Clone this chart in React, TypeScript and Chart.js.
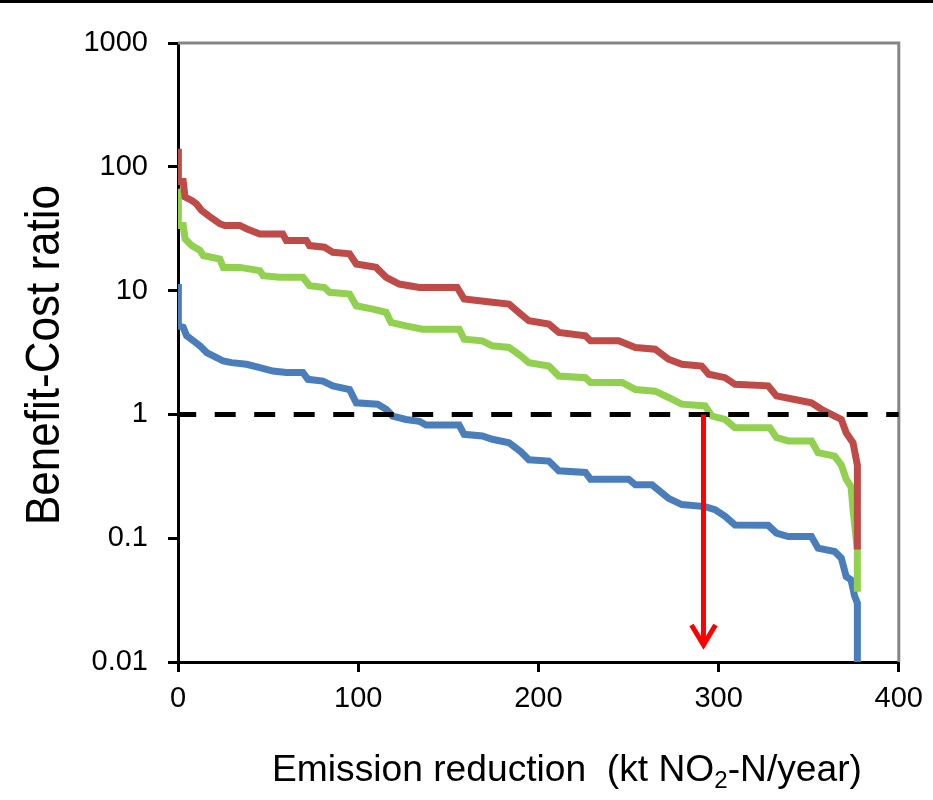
import React, { useEffect, useRef } from 'react';
import { Chart, registerables } from 'chart.js';

Chart.register(...registerables);

// ---- axis ticks ----
const X_TICKS = [0, 100, 200, 300, 400];
const Y_TICKS = [0.01, 0.1, 1, 10, 100, 1000];

// ---- series (cumulative emission reduction, benefit-cost ratio) ----
const RED_X = [0, 0.2, 2.9, 3.9, 7.6, 10.3, 13.1, 17.7, 23.2, 26.0, 34.3, 38.0, 45.4, 58.1, 60.1, 71.2, 73.0, 81.3, 85.9, 95.2, 98.9, 109.9, 115.5, 122.8, 133.9, 154.9, 158.8, 174.4, 183.7, 190.2, 194.7, 205.8, 211.3, 226.1, 228.9, 244.5, 253.8, 264.8, 272.2, 279.6, 290.6, 294.5, 303.6, 309.1, 327.5, 332.1, 342.3, 351.5, 357.0, 362.5, 368.1, 370.8, 374.6, 377, 377];
const RED_Y = [140, 76, 76, 57, 53.5, 50, 44.4, 39.5, 34.7, 33.6, 33.6, 31.6, 28.7, 28.7, 25.4, 25.4, 23.1, 22.4, 20.4, 19.8, 16.4, 15.4, 12.8, 11.3, 10.6, 10.6, 8.55, 8.04, 7.79, 6.46, 5.7, 5.36, 4.59, 4.31, 3.93, 3.93, 3.47, 3.36, 2.79, 2.54, 2.46, 2.11, 1.98, 1.75, 1.7, 1.41, 1.32, 1.24, 1.1, 1.0, 0.91, 0.71, 0.59, 0.39, 0.081];

const GREEN_X = [0, 0.2, 2.9, 3.9, 7.6, 12.2, 14.0, 23.2, 25.1, 34.3, 45.4, 47.2, 56.4, 69.3, 73.0, 81.3, 84.1, 95.2, 98.9, 108.1, 115.5, 118.2, 126.5, 135.7, 156.0, 158.8, 168.9, 174.4, 183.7, 190.2, 194.7, 205.8, 211.3, 226.1, 228.9, 246.4, 253.8, 264.8, 272.2, 279.6, 292.5, 296.3, 303.6, 309.1, 328.4, 332.1, 338.6, 351.5, 355.2, 364.4, 368.1, 370.8, 373.5, 374.6, 377, 377];
const GREEN_Y = [66.6, 33.6, 33.6, 26.2, 23.1, 21.1, 19.2, 18.0, 15.4, 15.4, 14.5, 13.2, 12.8, 12.8, 10.96, 10.6, 9.69, 9.38, 7.54, 7.09, 6.67, 5.53, 5.19, 4.88, 4.88, 4.05, 3.93, 3.58, 3.47, 2.97, 2.62, 2.46, 2.04, 1.98, 1.81, 1.81, 1.59, 1.54, 1.37, 1.21, 1.17, 0.97, 0.91, 0.78, 0.78, 0.65, 0.61, 0.61, 0.49, 0.46, 0.39, 0.30, 0.26, 0.17, 0.081, 0.037];

const BLUE_X = [0, 0.2, 2.9, 4.8, 8.5, 12.2, 15.9, 21.4, 25.1, 29.7, 38.0, 45.4, 52.7, 60.1, 69.3, 72.1, 80.4, 85.9, 95.2, 98.9, 110.8, 115.5, 119.1, 126.5, 133.9, 137.6, 156.0, 158.8, 168.9, 174.4, 183.7, 190.2, 194.7, 205.8, 211.3, 226.1, 228.9, 250.1, 253.8, 263.0, 272.2, 279.6, 292.5, 298.0, 303.6, 309.1, 327.5, 332.1, 338.6, 351.5, 355.2, 364.4, 368.1, 370.8, 373.5, 375.5, 377, 377];
const BLUE_Y = [11.3, 5.19, 5.04, 4.31, 3.93, 3.58, 3.16, 2.88, 2.70, 2.62, 2.54, 2.39, 2.24, 2.18, 2.18, 1.92, 1.86, 1.70, 1.59, 1.24, 1.21, 1.10, 0.97, 0.91, 0.88, 0.82, 0.82, 0.69, 0.67, 0.63, 0.59, 0.50, 0.43, 0.42, 0.35, 0.34, 0.30, 0.30, 0.27, 0.27, 0.21, 0.187, 0.18, 0.17, 0.15, 0.128, 0.127, 0.11, 0.103, 0.103, 0.083, 0.078, 0.069, 0.049, 0.046, 0.034, 0.030, 0.01];

// ---- break-even line and arrow ----
const THRESHOLD_X = [0, 400];
const THRESHOLD_Y = [1, 1];
const ARROW_X = [291.6];
const ARROW_Y = [1, 0.0125]; // from, tip

// ---- text ----
const Y_TITLE = 'Benefit-Cost ratio';
const X_TITLE_PARTS = ['Emission reduction  (kt NO', '2', '-N/year)'];

const FONT = '"Liberation Sans", Arial, Helvetica, sans-serif';

const toPts = (xs: number[], ys: number[]) => xs.map((x, i) => ({ x, y: ys[i] }));

const decorPlugin = {
  id: 'decor',
  beforeDraw(chart: any) {
    const ctx = chart.ctx;
    ctx.save();
    ctx.fillStyle = '#ffffff';
    ctx.fillRect(0, 0, chart.width, chart.height);
    ctx.restore();
  },
  beforeDatasetsDraw(chart: any) {
    const { ctx, chartArea } = chart;
    ctx.save();
    ctx.strokeStyle = '#868686';
    ctx.lineWidth = 3;
    ctx.beginPath();
    ctx.moveTo(chartArea.left, chartArea.top);
    ctx.lineTo(chartArea.right, chartArea.top);
    ctx.lineTo(chartArea.right, chartArea.bottom);
    ctx.stroke();
    ctx.restore();
  },
  afterDatasetsDraw(chart: any) {
    const ctx = chart.ctx;
    const xs = chart.scales.x;
    const ys = chart.scales.y;
    const px = xs.getPixelForValue(ARROW_X[0]);
    const y0 = ys.getPixelForValue(ARROW_Y[0]);
    const y1 = ys.getPixelForValue(ARROW_Y[1]);
    ctx.save();
    ctx.strokeStyle = '#FF0000';
    ctx.lineWidth = 5;
    ctx.lineCap = 'butt';
    ctx.beginPath();
    ctx.moveTo(px, y0);
    ctx.lineTo(px, y1 - 6);
    ctx.stroke();
    ctx.lineJoin = 'miter';
    ctx.beginPath();
    ctx.moveTo(px - 12, y1 - 25);
    ctx.lineTo(px, y1 - 5);
    ctx.lineTo(px + 12, y1 - 25);
    ctx.stroke();
    ctx.restore();
  },
  afterDraw(chart: any) {
    const ctx = chart.ctx;
    ctx.save();
    // top rule
    ctx.fillStyle = '#000000';
    ctx.fillRect(0, 0, chart.width, 3);

    // y title (rotated)
    ctx.font = `48px ${FONT}`;
    const yw = ctx.measureText(Y_TITLE).width;
    ctx.save();
    ctx.translate(59, 355);
    ctx.rotate(-Math.PI / 2);
    ctx.scale(340 / yw, 1);
    ctx.textAlign = 'center';
    ctx.textBaseline = 'alphabetic';
    ctx.fillText(Y_TITLE, 0, 0);
    ctx.restore();

    // x title with subscript
    const fonts = [`37px ${FONT}`, `24px ${FONT}`, `37px ${FONT}`];
    const dys = [0, 7, 0];
    let total = 0;
    const widths = X_TITLE_PARTS.map((t, i) => {
      ctx.font = fonts[i];
      const w = ctx.measureText(t).width;
      total += w;
      return w;
    });
    ctx.save();
    ctx.translate(272, 781);
    ctx.scale(590 / total, 1);
    ctx.textAlign = 'left';
    ctx.textBaseline = 'alphabetic';
    let x = 0;
    X_TITLE_PARTS.forEach((t, i) => {
      ctx.font = fonts[i];
      ctx.fillText(t, x, dys[i]);
      x += widths[i];
    });
    ctx.restore();
    ctx.restore();
  },
};

export default function App() {
  const ref = useRef<HTMLCanvasElement>(null);
  useEffect(() => {
    document.body.style.margin = '0';
    const canvas = ref.current;
    if (!canvas) return;
    const lineBase = { pointRadius: 0, pointHoverRadius: 0, tension: 0, fill: false, borderCapStyle: 'butt' as const, borderJoinStyle: 'miter' as const };
    const chart = new Chart(canvas, {
      type: 'line',
      data: {
        datasets: [
          { ...lineBase, label: 'break-even', data: toPts(THRESHOLD_X, THRESHOLD_Y), borderColor: '#000000', borderWidth: 5, borderDash: [21, 18.5], borderDashOffset: 2.8, order: 0 },
          { ...lineBase, label: 'high', data: toPts(RED_X, RED_Y), borderColor: '#BE4B48', borderWidth: 7, order: 1 },
          { ...lineBase, label: 'medium', data: toPts(GREEN_X, GREEN_Y), borderColor: '#92D050', borderWidth: 7, order: 2 },
          { ...lineBase, label: 'low', data: toPts(BLUE_X, BLUE_Y), borderColor: '#4A7EBB', borderWidth: 7, order: 3 },
        ],
      },
      options: {
        animation: false,
        responsive: false,
        devicePixelRatio: 1,
        events: [],
        layout: { padding: { top: 43, right: 32, left: 0, bottom: 0 } },
        plugins: { legend: { display: false }, tooltip: { enabled: false }, title: { display: false } },
        scales: {
          x: {
            type: 'linear',
            min: 0,
            max: 400,
            afterBuildTicks: (s: any) => { s.ticks = X_TICKS.map((v) => ({ value: v })); },
            afterFit: (s: any) => { s.height = 138; },
            ticks: { color: '#000000', font: { family: FONT, size: 29 }, padding: 10, maxRotation: 0 },
            grid: { display: true, drawOnChartArea: false, drawTicks: true, tickLength: 10, color: '#000000', lineWidth: 3 },
            border: { display: true, color: '#000000', width: 3 },
            title: { display: false },
          },
          y: {
            type: 'logarithmic',
            min: 0.01,
            max: 1000,
            afterBuildTicks: (s: any) => { s.ticks = Y_TICKS.map((v) => ({ value: v, major: true })); },
            afterFit: (s: any) => { s.width = 178; },
            ticks: { color: '#000000', font: { family: FONT, size: 29 }, padding: 20, callback: (v: any) => String(v) },
            grid: { display: true, drawOnChartArea: false, drawTicks: true, tickLength: 10, color: '#000000', lineWidth: 3 },
            border: { display: true, color: '#000000', width: 3 },
            title: { display: false },
          },
        },
      },
      plugins: [decorPlugin],
    } as any);
    return () => chart.destroy();
  }, []);
  return <canvas ref={ref} width={933} height={800} style={{ display: 'block' }} />;
}
